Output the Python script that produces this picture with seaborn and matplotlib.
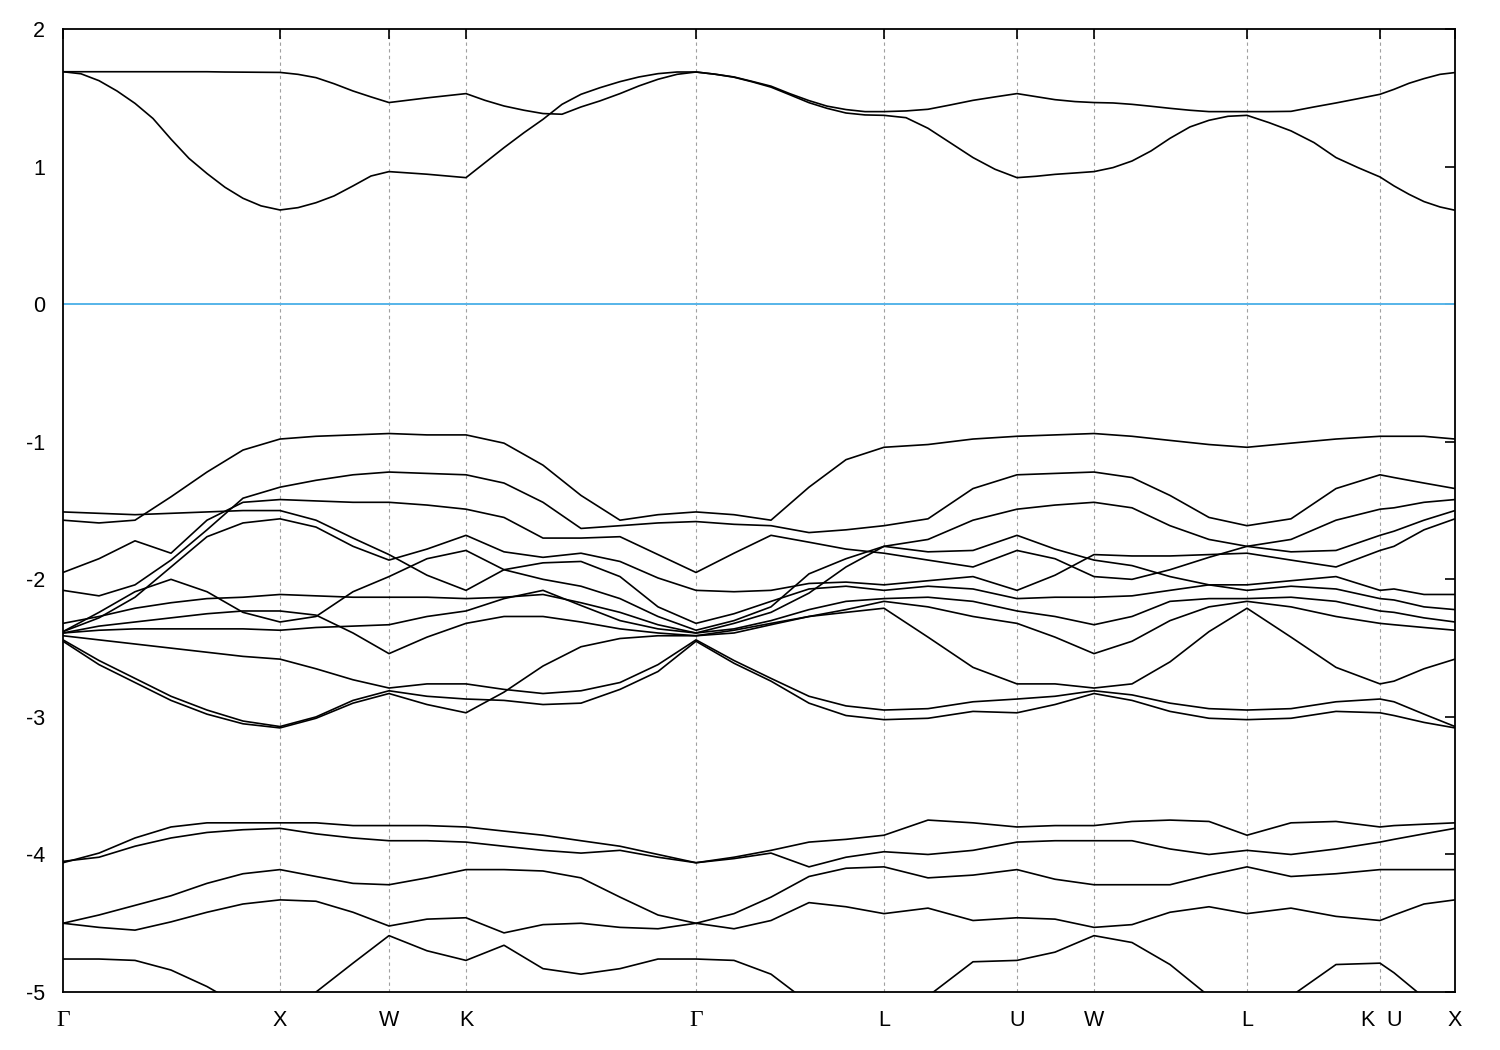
import matplotlib
matplotlib.use("Agg")
import matplotlib.pyplot as plt
import matplotlib.transforms as mtransforms
import numpy as np
import pandas as pd
import seaborn as sns

# position along the path G-X-W-K-G-L-U-W-L-K|U-X (arbitrary units, G-X = 217)
k_path = [0, 36, 72, 108, 144, 180, 217, 253, 290, 326, 364, 403, 441, 480, 518,
          557, 595, 633, 671, 708, 746, 783, 821, 865, 910, 954, 992, 1031, 1069,
          1107, 1146, 1184, 1228, 1273, 1317, 1331, 1361, 1392]

# the two conduction bands are read on a finer grid
cond_k = [0, 18, 36, 54, 72, 90, 108, 126, 144, 162, 180, 198, 217,
          235, 253, 271, 290, 308, 326, 364, 403,
          422, 441, 461, 480, 499, 518, 537, 557, 576, 595, 614, 633,
          652, 671, 689, 708, 727, 746, 764, 783, 802, 821,
          843, 865, 887, 910, 932, 954, 973, 992, 1012, 1031,
          1050, 1069, 1088, 1107, 1127, 1146, 1165, 1184,
          1206, 1228, 1251, 1273, 1295, 1317, 1331, 1346, 1361, 1377, 1392]

sym_k = [0, 217, 326, 403, 633, 821, 954, 1031, 1184, 1317, 1331, 1392]
sym_labels = ["Γ", "X", "W", "K", "Γ", "L", "U", "W", "L", "K", "U", "X"]

# conduction bands (eV)
cond_1 = [1.69, 1.69, 1.69, 1.69, 1.69, 1.69, 1.69, 1.69, 1.69, 1.688, 1.687, 1.686, 1.685,
          1.671, 1.647, 1.603, 1.55, 1.507, 1.466, 1.50, 1.531,
          1.482, 1.441, 1.41, 1.386, 1.381, 1.434, 1.478, 1.531, 1.587, 1.635, 1.671, 1.688,
          1.672, 1.652, 1.62, 1.585, 1.53, 1.48, 1.44, 1.415, 1.40, 1.40,
          1.405, 1.417, 1.448, 1.482, 1.507, 1.531, 1.509, 1.487, 1.473, 1.466,
          1.463, 1.453, 1.439, 1.424, 1.41, 1.40, 1.40, 1.40,
          1.40, 1.402, 1.434, 1.463, 1.494, 1.526, 1.562, 1.606, 1.64, 1.671, 1.684]
cond_2 = [1.69, 1.675, 1.625, 1.55, 1.46, 1.35, 1.20, 1.06, 0.95, 0.85, 0.77, 0.715, 0.685,
          0.702, 0.738, 0.787, 0.86, 0.932, 0.964, 0.945, 0.92,
          1.029, 1.138, 1.247, 1.344, 1.453, 1.526, 1.574, 1.618, 1.652, 1.676, 1.688, 1.688,
          1.672, 1.65, 1.617, 1.578, 1.522, 1.465, 1.424, 1.39, 1.376, 1.373,
          1.356, 1.279, 1.175, 1.066, 0.981, 0.92, 0.93, 0.944, 0.954, 0.964,
          0.993, 1.041, 1.114, 1.206, 1.289, 1.337, 1.366, 1.373,
          1.32, 1.26, 1.175, 1.066, 0.993, 0.925, 0.86, 0.799, 0.746, 0.707, 0.683]

# valence bands between -1 and -3.1 eV
val_01 = [-1.57, -1.59, -1.57, -1.40, -1.22, -1.06, -0.98, -0.96, -0.95, -0.94, -0.95, -0.95,
          -1.01, -1.17, -1.39, -1.57, -1.53, -1.51, -1.53, -1.57, -1.33, -1.13, -1.04,
          -1.02, -0.98, -0.96, -0.95, -0.94, -0.96, -0.99, -1.02, -1.04, -1.01, -0.98, -0.96,
          -0.96, -0.96, -0.98]
val_02 = [-1.51, -1.52, -1.53, -1.52, -1.51, -1.50, -1.50, -1.57, -1.70, -1.82, -1.97, -2.08,
          -1.93, -1.88, -1.87, -1.98, -2.20, -2.32, -2.25, -2.16, -2.07, -2.05, -2.08,
          -2.05, -2.07, -2.14, -2.13, -2.13, -2.12, -2.08, -2.04, -2.04, -2.01, -1.98, -2.08,
          -2.07, -2.11, -2.11]
val_03 = [-1.95, -1.85, -1.72, -1.81, -1.57, -1.44, -1.42, -1.43, -1.44, -1.44, -1.46, -1.49,
          -1.55, -1.70, -1.70, -1.69, -1.82, -1.95, -1.81, -1.68, -1.73, -1.78, -1.81,
          -1.86, -1.91, -1.79, -1.85, -1.98, -2.00, -1.93, -1.84, -1.76, -1.80, -1.79, -1.68,
          -1.65, -1.57, -1.50]
val_04 = [-2.08, -2.12, -2.04, -1.86, -1.64, -1.41, -1.33, -1.28, -1.24, -1.22, -1.23, -1.24,
          -1.30, -1.44, -1.63, -1.61, -1.59, -1.58, -1.60, -1.61, -1.66, -1.64, -1.61,
          -1.56, -1.34, -1.24, -1.23, -1.22, -1.26, -1.39, -1.55, -1.61, -1.56, -1.34, -1.24,
          -1.26, -1.30, -1.34]
val_05 = [-2.38, -2.28, -2.13, -1.91, -1.69, -1.59, -1.56, -1.62, -1.76, -1.86, -1.78, -1.68,
          -1.80, -1.84, -1.81, -1.87, -1.99, -2.08, -2.09, -2.08, -2.03, -2.02, -2.04,
          -2.01, -1.98, -2.08, -1.97, -1.82, -1.83, -1.83, -1.82, -1.81, -1.86, -1.91, -1.79,
          -1.76, -1.64, -1.56]
val_06 = [-2.38, -2.24, -2.09, -2.00, -2.09, -2.24, -2.31, -2.27, -2.09, -1.98, -1.85, -1.79,
          -1.93, -2.00, -2.05, -2.14, -2.27, -2.37, -2.30, -2.20, -1.96, -1.85, -1.76,
          -1.71, -1.57, -1.49, -1.46, -1.44, -1.48, -1.61, -1.71, -1.76, -1.71, -1.57, -1.49,
          -1.48, -1.44, -1.42]
val_07 = [-2.32, -2.27, -2.21, -2.17, -2.14, -2.13, -2.11, -2.12, -2.13, -2.13, -2.13, -2.14,
          -2.13, -2.11, -2.17, -2.24, -2.33, -2.39, -2.32, -2.24, -2.10, -1.91, -1.76,
          -1.80, -1.79, -1.68, -1.78, -1.86, -1.90, -1.98, -2.04, -2.08, -2.05, -2.07, -2.14,
          -2.15, -2.20, -2.22]
val_08 = [-2.39, -2.34, -2.31, -2.28, -2.25, -2.23, -2.23, -2.26, -2.39, -2.54, -2.42, -2.32,
          -2.27, -2.27, -2.31, -2.36, -2.39, -2.41, -2.37, -2.32, -2.27, -2.22, -2.16,
          -2.20, -2.27, -2.32, -2.42, -2.54, -2.45, -2.30, -2.20, -2.16, -2.20, -2.27, -2.32,
          -2.33, -2.35, -2.37]
val_09 = [-2.39, -2.37, -2.36, -2.36, -2.36, -2.36, -2.37, -2.35, -2.34, -2.33, -2.27, -2.23,
          -2.14, -2.08, -2.19, -2.30, -2.36, -2.39, -2.36, -2.30, -2.22, -2.16, -2.14,
          -2.13, -2.16, -2.23, -2.27, -2.33, -2.27, -2.16, -2.14, -2.14, -2.13, -2.16, -2.23,
          -2.24, -2.28, -2.31]
val_10 = [-2.41, -2.44, -2.47, -2.50, -2.53, -2.56, -2.58, -2.65, -2.73, -2.79, -2.76, -2.76,
          -2.80, -2.83, -2.81, -2.75, -2.62, -2.44, -2.59, -2.72, -2.85, -2.92, -2.95,
          -2.94, -2.89, -2.87, -2.85, -2.81, -2.84, -2.90, -2.94, -2.95, -2.94, -2.89, -2.87,
          -2.89, -2.98, -3.07]
val_11 = [-2.44, -2.59, -2.72, -2.85, -2.95, -3.03, -3.07, -3.00, -2.88, -2.81, -2.85, -2.87,
          -2.88, -2.91, -2.90, -2.80, -2.67, -2.45, -2.61, -2.74, -2.90, -2.99, -3.02,
          -3.01, -2.96, -2.97, -2.91, -2.83, -2.88, -2.96, -3.01, -3.02, -3.01, -2.96, -2.97,
          -2.99, -3.04, -3.08]
val_12 = [-2.45, -2.62, -2.75, -2.88, -2.98, -3.05, -3.08, -3.01, -2.90, -2.83, -2.91, -2.97,
          -2.82, -2.63, -2.49, -2.43, -2.41, -2.41, -2.39, -2.33, -2.27, -2.24, -2.21,
          -2.42, -2.64, -2.76, -2.76, -2.79, -2.76, -2.60, -2.38, -2.21, -2.42, -2.64, -2.76,
          -2.74, -2.65, -2.58]

# lower bands (-3.7 eV and below); nan = outside the frame
low_1 = [-4.06, -3.99, -3.88, -3.80, -3.77, -3.77, -3.77, -3.77, -3.79, -3.79, -3.79, -3.80,
         -3.83, -3.86, -3.90, -3.94, -4.00, -4.06, -4.02, -3.97, -3.91, -3.89, -3.86,
         -3.75, -3.77, -3.80, -3.79, -3.79, -3.76, -3.75, -3.76, -3.86, -3.77, -3.76, -3.80,
         -3.79, -3.78, -3.77]
low_2 = [-4.05, -4.02, -3.94, -3.88, -3.84, -3.82, -3.81, -3.85, -3.88, -3.90, -3.90, -3.91,
         -3.94, -3.97, -3.99, -3.97, -4.02, -4.06, -4.03, -3.99, -4.09, -4.02, -3.98,
         -4.00, -3.97, -3.91, -3.90, -3.90, -3.90, -3.96, -4.00, -3.97, -4.00, -3.96, -3.91,
         -3.89, -3.85, -3.81]
low_3 = [-4.50, -4.44, -4.37, -4.30, -4.21, -4.14, -4.11, -4.16, -4.21, -4.22, -4.17, -4.11,
         -4.11, -4.12, -4.17, -4.31, -4.44, -4.50, -4.43, -4.31, -4.16, -4.10, -4.09,
         -4.17, -4.15, -4.11, -4.18, -4.22, -4.22, -4.22, -4.15, -4.09, -4.16, -4.14, -4.11,
         -4.11, -4.11, -4.11]
low_4 = [-4.50, -4.53, -4.55, -4.49, -4.42, -4.36, -4.33, -4.34, -4.42, -4.52, -4.47, -4.46,
         -4.57, -4.51, -4.50, -4.53, -4.54, -4.50, -4.54, -4.48, -4.35, -4.38, -4.43,
         -4.39, -4.48, -4.46, -4.47, -4.53, -4.51, -4.42, -4.38, -4.43, -4.39, -4.45, -4.48,
         -4.44, -4.36, -4.33]
nan = np.nan
low_5 = [-4.76, -4.76, -4.77, -4.84, -4.96, -5.11, -5.25] + [nan] * 31
low_6 = [nan, nan, nan, nan, nan, nan, -5.2, -5.0, -4.79, -4.59, -4.70, -4.77,
         -4.66, -4.83, -4.87, -4.83, -4.76, -4.76, -4.77, -4.87, -5.08, nan, nan,
         -5.03, -4.78, -4.77, -4.71, -4.59, -4.64, -4.80, -5.03, nan, -5.03, -4.80, -4.79,
         -4.86, -5.04, nan]

bands = {
    "v01": val_01, "v02": val_02, "v03": val_03, "v04": val_04, "v05": val_05, "v06": val_06,
    "v07": val_07, "v08": val_08, "v09": val_09, "v10": val_10, "v11": val_11, "v12": val_12,
    "l1": low_1, "l2": low_2, "l3": low_3, "l4": low_4, "l5": low_5, "l6": low_6,
}

rows = []
for name, energies in bands.items():
    for k, e in zip(k_path, energies):
        rows.append({"k": k, "energy": e, "band": name})
for name, energies in {"c1": cond_1, "c2": cond_2}.items():
    for k, e in zip(cond_k, energies):
        rows.append({"k": k, "energy": e, "band": name})
df = pd.DataFrame(rows)

sns.set_theme(style="white")
plt.rcParams["font.family"] = ["Liberation Sans", "DejaVu Sans"]
plt.rcParams["axes.unicode_minus"] = False

fig = plt.figure(figsize=(15, 10.5), dpi=100)
ax = fig.add_axes([0.042, 0.0552, 0.928, 0.9171])

# high-symmetry guide lines
for k in sym_k[1:-1]:
    if k == 1331:
        continue
    ax.axvline(k, color="#a0a0a0", lw=0.8, ls=(0, (3, 3)), zorder=0)

ax.axhline(0, color="#56B4E9", lw=1.4, zorder=1)

sns.lineplot(data=df, x="k", y="energy", units="band", estimator=None,
             color="black", lw=1.2, sort=False, legend=False, ax=ax, zorder=2)

ax.set_xlim(0, 1392)
ax.set_ylim(-5, 2)
ax.set_xlabel("")
ax.set_ylabel("")

yt = [-5, -4, -3, -2, -1, 0, 1, 2]
ax.set_yticks(yt)
ax.set_yticklabels([str(v) for v in yt])
ax.set_xticks(sym_k)
ax.set_xticklabels(sym_labels)

ax.tick_params(axis="both", direction="in", length=7.5, width=1.2, color="black",
               labelsize=15.5, labelcolor="black", top=True, right=True)
ax.tick_params(axis="y", pad=13)
ax.tick_params(axis="x", pad=13)

for spine in ax.spines.values():
    spine.set_visible(True)
    spine.set_color("black")
    spine.set_linewidth(1.3)

ticks = ax.xaxis.get_major_ticks()
ticks[10].tick1line.set_visible(False)
ticks[10].tick2line.set_visible(False)

for lab in ax.get_xticklabels():
    if lab.get_text() == "Γ":
        lab.set_family(["Liberation Serif", "DejaVu Serif"])
        lab.set_fontsize(17)

# nudge the K next to U a little to the left, as in the original
k_lab = ax.get_xticklabels()[9]
k_lab.set_transform(k_lab.get_transform()
                    + mtransforms.ScaledTranslation(-0.13, 0, fig.dpi_scale_trans))

fig.savefig("out.png", dpi=100)
